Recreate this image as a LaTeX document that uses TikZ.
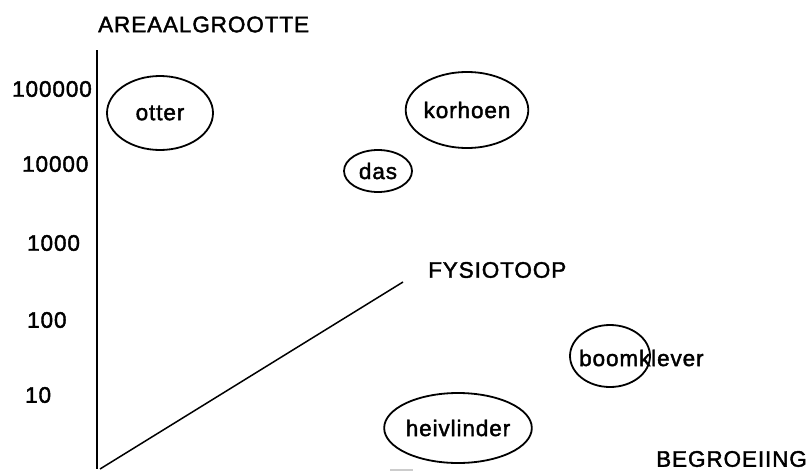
\documentclass[tikz,border=0pt]{standalone}
\usepackage{fontspec}
\setmainfont{Liberation Sans}
\newfontfamily\trackedfont[LetterSpace=4,FakeBold=1.8]{Liberation Sans}
\usetikzlibrary{shapes.geometric}
\begin{document}
\begin{tikzpicture}[x=1pt,y=-1pt,
  lab/.style={font=\trackedfont\fontsize{22.5}{26}\selectfont, inner sep=0pt},
  blob/.style={draw, ellipse, line width=1.8pt, inner sep=0pt,
    font=\trackedfont\fontsize{22.5}{26}\selectfont},
  axisline/.style={line width=2pt},
  diag/.style={line width=1.5pt},
]
\useasboundingbox (0,0) rectangle (808,471);

% axis and the fysiotoop line
\coordinate (axtop) at (97,50);
\coordinate (origin) at (97,469);
\coordinate (dstart) at (100,469);
\coordinate (fend) at (403,282);
\draw[axisline] (axtop) -- (origin);
\draw[diag] (dstart) -- (fend);

% axis titles
\node[lab, anchor=west] (ytitle) at (98,24.5) {AREAALGROOTTE};
\node[lab, anchor=west] (xtitle) at (656,459) {BEGROEIING};
\node[lab, anchor=west] (fysio) at (428,270) {FYSIOTOOP};

% scale values
\node[lab, anchor=west] (t5) at (12,89) {100000};
\node[lab, anchor=west] (t4) at (22,164) {10000};
\node[lab, anchor=west] (t3) at (27,243) {1000};
\node[lab, anchor=west] (t2) at (27,320) {100};
\node[lab, anchor=west] (t1) at (25,395) {10};

% species
\node[blob, minimum width=106pt, minimum height=74pt] (otter) at (160,113) {otter};
\node[blob, minimum width=107pt, minimum height=76pt] (korhoen) at (467,110) {korhoen};
\node[blob, minimum width=68pt, minimum height=42pt] (das) at (378,171) {das};
\node[blob, minimum width=80pt, minimum height=62pt] (boomring) at (610,356) {};
\node[lab, anchor=west] (boomklever) at (579,358) {boomklever};
\node[blob, minimum width=107pt, minimum height=70pt] (heivlinder) at (458,428) {heivlinder};

% faint mark at the lower edge
\coordinate (m1) at (390,470);
\coordinate (m2) at (413,470);
\draw[gray!40, line width=1.5pt] (m1) -- (m2);
\end{tikzpicture}
\end{document}
